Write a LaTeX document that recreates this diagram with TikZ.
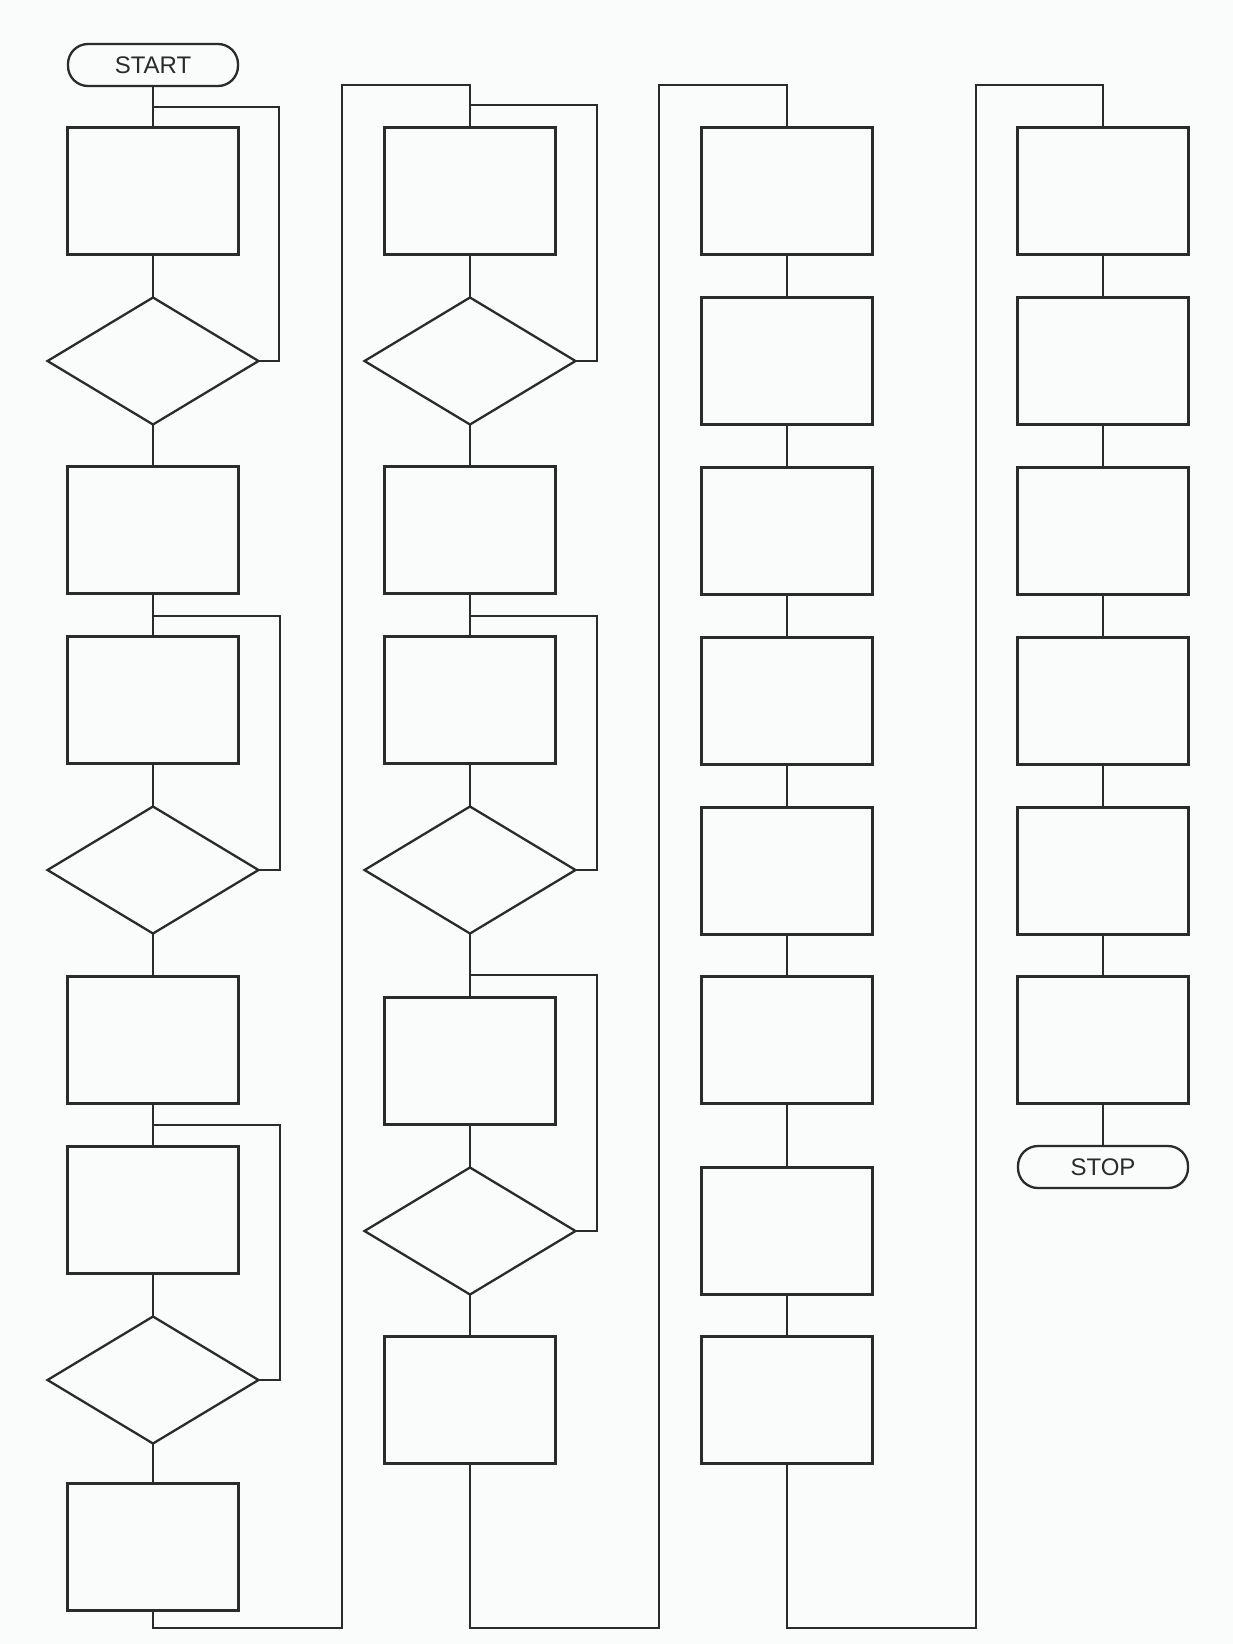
\documentclass[tikz,border=0pt]{standalone}
\usepackage{fontspec}
\setmainfont{Liberation Sans}
\usetikzlibrary{shapes.geometric}
\definecolor{ink}{HTML}{2B2B2B}
\definecolor{paper}{HTML}{FAFBFB}
\tikzset{
  conn/.style={line width=2.3pt, draw=ink},
  procbox/.style={draw=ink, line width=2.3pt, rectangle, minimum width=171pt, minimum height=127pt, inner sep=0pt, outer sep=0pt},
  decide/.style={draw=ink, line width=2.3pt, diamond, minimum width=211pt, minimum height=127pt, inner sep=0pt, outer sep=0pt},
  term/.style={draw=ink, line width=2.3pt, rectangle, rounded corners=20pt, minimum width=170pt, minimum height=42pt, inner sep=0pt, outer sep=0pt, font=\fontsize{24}{26}\selectfont, text=ink},
}
\begin{document}
\begin{tikzpicture}[x=1pt, y=-1pt]
\fill[paper] (0,0) rectangle (1233,1644);
\useasboundingbox (0,0) rectangle (1233,1644);

% column 1
\node[term] (start) at (153,65) {START};
\node[procbox] (a1) at (153,191) {};
\node[decide]  (a2) at (153,361) {};
\node[procbox] (a3) at (153,530) {};
\node[procbox] (a4) at (153,700) {};
\node[decide]  (a5) at (153,870) {};
\node[procbox] (a6) at (153,1040) {};
\node[procbox] (a7) at (153,1210) {};
\node[decide]  (a8) at (153,1380) {};
\node[procbox] (a9) at (153,1547) {};

% column 2
\node[procbox] (b1) at (470,191) {};
\node[decide]  (b2) at (470,361) {};
\node[procbox] (b3) at (470,530) {};
\node[procbox] (b4) at (470,700) {};
\node[decide]  (b5) at (470,870) {};
\node[procbox] (b6) at (470,1061) {};
\node[decide]  (b7) at (470,1231) {};
\node[procbox] (b8) at (470,1400) {};

% column 3
\node[procbox] (c1) at (787,191) {};
\node[procbox] (c2) at (787,361) {};
\node[procbox] (c3) at (787,531) {};
\node[procbox] (c4) at (787,701) {};
\node[procbox] (c5) at (787,871) {};
\node[procbox] (c6) at (787,1040) {};
\node[procbox] (c7) at (787,1231) {};
\node[procbox] (c8) at (787,1400) {};

% column 4
\node[procbox] (d1) at (1103,191) {};
\node[procbox] (d2) at (1103,361) {};
\node[procbox] (d3) at (1103,531) {};
\node[procbox] (d4) at (1103,701) {};
\node[procbox] (d5) at (1103,871) {};
\node[procbox] (d6) at (1103,1040) {};
\node[term] (stop) at (1103,1167) {STOP};

% lanes and loop corners
\coordinate (la1) at (279,107);
\coordinate (la2) at (280,616);
\coordinate (la3) at (280,1125);
\coordinate (lb1) at (597,105);
\coordinate (lb2) at (597,616);
\coordinate (lb3) at (597,975);
\coordinate (r1b) at (342,1628);
\coordinate (r1t) at (342,85);
\coordinate (r2b) at (659,1628);
\coordinate (r2t) at (659,85);
\coordinate (r3b) at (976,1628);
\coordinate (r3t) at (976,85);

% straight flow
\draw[conn] (start) -- (a1) -- (a2) -- (a3) -- (a4) -- (a5) -- (a6) -- (a7) -- (a8) -- (a9);
\draw[conn] (b1) -- (b2) -- (b3) -- (b4) -- (b5) -- (b6) -- (b7) -- (b8);
\draw[conn] (c1) -- (c2) -- (c3) -- (c4) -- (c5) -- (c6) -- (c7) -- (c8);
\draw[conn] (d1) -- (d2) -- (d3) -- (d4) -- (d5) -- (d6) -- (stop);

% loops back
\draw[conn] (a2.east) -| (la1) -- (la1 -| a1.north);
\draw[conn] (a5.east) -| (la2) -- (la2 -| a4.north);
\draw[conn] (a8.east) -| (la3) -- (la3 -| a7.north);
\draw[conn] (b2.east) -| (lb1) -- (lb1 -| b1.north);
\draw[conn] (b5.east) -| (lb2) -- (lb2 -| b4.north);
\draw[conn] (b7.east) -| (lb3) -- (lb3 -| b6.north);

% column changes
\draw[conn] (a9.south) |- (r1b) -- (r1t) -| (b1.north);
\draw[conn] (b8.south) |- (r2b) -- (r2t) -| (c1.north);
\draw[conn] (c8.south) |- (r3b) -- (r3t) -| (d1.north);
\end{tikzpicture}
\end{document}
